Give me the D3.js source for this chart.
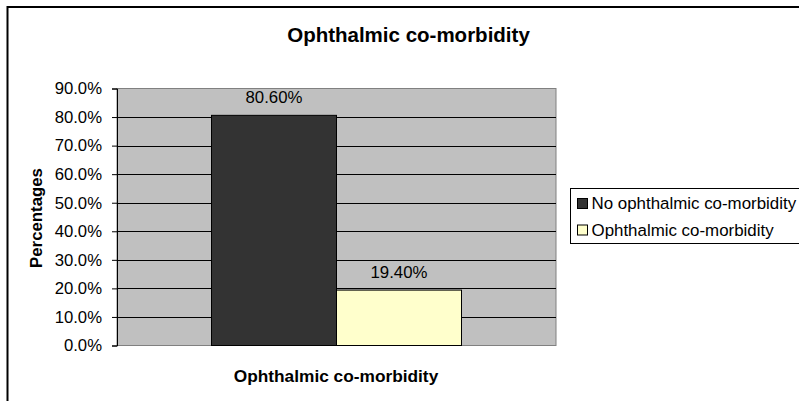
<!DOCTYPE html>
<html><head><meta charset="utf-8">
<script src="https://cdn.jsdelivr.net/npm/d3@7"></script>
<style>body{margin:0;background:#fff}svg{display:block}text{font-family:"Liberation Sans",Arial,sans-serif}</style>
</head><body>
<svg id="c" width="799" height="401"></svg>
<script>
const categories = ["No ophthalmic co-morbidity", "Ophthalmic co-morbidity"];
const values = [80.6, 19.4];
const valueLabels = ["80.60%", "19.40%"];
const colors = ["#333333", "#FFFFCC"];
const yTicks = [0,10,20,30,40,50,60,70,80,90];

const svg = d3.select("#c");
// outer frame
svg.append("rect").attr("x",7.5).attr("y",7).attr("width",820).attr("height",420)
  .attr("fill","#fff").attr("stroke","#000").attr("stroke-width",2);

const L=117, R=556, T=88.5, B=345.5;
const y = d3.scaleLinear().domain([0,90]).range([B,T]);
const x = d3.scaleBand().domain(["g"]).range([L,R]).paddingInner(0).paddingOuter(0.378);
const xs = d3.scaleBand().domain(categories).range([x("g"), x("g")+x.bandwidth()]);

svg.append("rect").attr("x",L).attr("y",T).attr("width",R-L).attr("height",B-T)
  .attr("fill","#C0C0C0").attr("stroke","#808080").attr("stroke-width",1);

svg.append("g").selectAll("line").data(yTicks.filter(d=>d>0&&d<90)).join("line")
  .attr("x1",L).attr("x2",R).attr("y1",d=>Math.round(y(d))+0.5).attr("y2",d=>Math.round(y(d))+0.5)
  .attr("stroke","#000").attr("stroke-width",1);

const yAxis = d3.axisLeft(y).tickValues(yTicks).tickFormat(d=>d.toFixed(1)+"%").tickSize(5).tickPadding(10);
const ga = svg.append("g").attr("transform",`translate(${L},0)`).call(yAxis);
ga.select(".domain").attr("stroke","#000");
ga.selectAll(".tick line").attr("stroke","#000");
ga.selectAll("text").attr("font-size","16.7px").attr("fill","#000").attr("font-family",'"Liberation Sans",Arial,sans-serif');

svg.append("g").selectAll("rect").data(categories).join("rect")
  .attr("x",d=>xs(d)).attr("width",xs.bandwidth())
  .attr("y",(d,i)=>y(values[i])).attr("height",(d,i)=>B-y(values[i]))
  .attr("fill",(d,i)=>colors[i]).attr("stroke","#000").attr("stroke-width",1);

svg.append("g").selectAll("text").data(categories).join("text")
  .attr("x",d=>xs(d)+xs.bandwidth()/2).attr("y",(d,i)=>y(values[i])-12)
  .attr("text-anchor","middle").attr("font-size","16.8px").text((d,i)=>valueLabels[i]);

svg.append("text").attr("x",408.5).attr("y",41.5).attr("text-anchor","middle")
  .attr("font-size","20.5px").attr("font-weight","bold").text("Ophthalmic co-morbidity");
svg.append("text").attr("x",336).attr("y",382).attr("text-anchor","middle")
  .attr("font-size","17.3px").attr("font-weight","bold").text("Ophthalmic co-morbidity");
svg.append("text").attr("transform",`translate(42,${218}) rotate(-90)`).attr("text-anchor","middle")
  .attr("font-size","16.8px").attr("font-weight","bold").text("Percentages");

// legend
const lg = svg.append("g");
lg.append("rect").attr("x",570.5).attr("y",188.5).attr("width",260).attr("height",55)
  .attr("fill","#fff").attr("stroke","#000").attr("stroke-width",1);
categories.forEach((c,i)=>{
  const yy = 209 + i*26.5;
  lg.append("rect").attr("x",577.5).attr("y",yy-10.5).attr("width",10).attr("height",10)
    .attr("fill",colors[i]).attr("stroke","#000").attr("stroke-width",1);
  lg.append("text").attr("x",591.5).attr("y",yy).attr("font-size","16.9px").text(c);
});
</script>
</body></html>
